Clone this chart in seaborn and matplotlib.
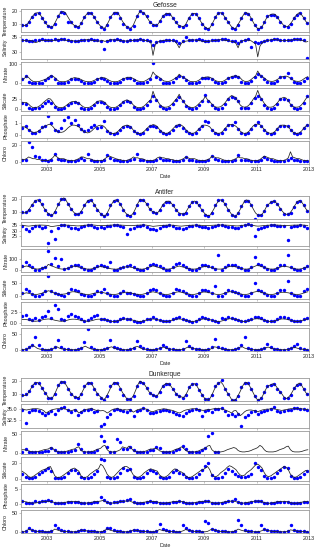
import numpy as np
import pandas as pd
import matplotlib
matplotlib.use("Agg")
import matplotlib.pyplot as plt
import seaborn as sns

sns.set_style("white")
plt.rcParams['font.family'] = ['Liberation Sans', 'DejaVu Sans']

# ---------------- sampling dates (decimal years) ----------------
sample_dates = [
    2002.05, 2002.18, 2002.30, 2002.42, 2002.55, 2002.67, 2002.80, 2002.92,
    2003.04, 2003.16, 2003.29, 2003.41, 2003.54, 2003.66, 2003.79, 2003.91,
    2004.05, 2004.18, 2004.30, 2004.42, 2004.55, 2004.67, 2004.80, 2004.92,
    2005.04, 2005.16, 2005.29, 2005.41, 2005.54, 2005.66, 2005.79, 2005.91,
    2006.05, 2006.18, 2006.30, 2006.42, 2006.55, 2006.67, 2006.80, 2006.92,
    2007.04, 2007.16, 2007.29, 2007.41, 2007.54, 2007.66, 2007.79, 2007.91,
    2008.05, 2008.18, 2008.30, 2008.42, 2008.55, 2008.67, 2008.80, 2008.92,
    2009.04, 2009.16, 2009.29, 2009.41, 2009.54, 2009.66, 2009.79, 2009.91,
    2010.05, 2010.18, 2010.30, 2010.42, 2010.55, 2010.67, 2010.80, 2010.92,
    2011.04, 2011.16, 2011.29, 2011.41, 2011.54, 2011.66, 2011.79, 2011.91,
    2012.05, 2012.18, 2012.30, 2012.42, 2012.55, 2012.67, 2012.80, 2012.92,
]
nan = float('nan')

# ================= GEFOSSE =================
gef_temp_line = [
    9, 8.5, 9, 11, 14, 16.5, 18.5, 19, 18, 15.5, 12.5, 10,
    8, 7, 7.5, 10.5, 14, 17.5, 19.5, 20, 18.5, 15.5, 12.5, 10,
    8.5, 7.5, 7.5, 10, 13.5, 16.5, 18.5, 19, 18, 15.5, 12.5, 10,
    8, 6.5, 6.5, 9.5, 13, 16.5, 18.5, 19.5, 18.5, 15.5, 12, 9.5,
    7.5, 6.5, 6.5, 9, 13, 17, 20, 19.5, 18.5, 16, 13, 10.5,
    9.5, 8.5, 9, 11.5, 14.5, 17, 18, 18.5, 17.5, 15, 12.5, 10,
    8.5, 8, 7.5, 9.5, 13, 16, 18, 18.5, 17.5, 14.5, 11.5, 9,
    7, 6, 6.5, 9.5, 13, 16.5, 18.5, 19, 18, 15, 12.5, 10,
    7.5, 6, 6.5, 9.5, 12.5, 16, 18.5, 19, 17.5, 14.5, 11, 8,
    6, 6, 7.5, 11, 14.5, 16.5, 17.5, 18, 17.5, 15.5, 12.5, 10.5,
    8.5, 7.5, 8, 10, 12.5, 15.5, 17.5, 19, 17.5, 15, 12, 10,
]
gef_temp_dots = [
    9, 9, 11.5, 15.5, 18, 18.5, 15, 11,
    8, 7.5, 10, 16, 19.5, 19, 11, 11,
    8, 7, 10.5, 15.5, 18.5, 18.5, 15.5, 11,
    7.5, 5.5, 9, 15.5, 18.5, 19, 15, 10,
    7, 6, 8.5, 16, 20, 19, 16, 11.5,
    9, 9, 12, 16, 18, 18, 15, 11,
    8, 7.5, 9, 15, 18, 18, 14.5, 10,
    6.5, 6, 9.5, 15.5, 18.5, 18.5, 15, 11,
    6.5, 6, 9, 15, 18.5, 18, 14, 9,
    6, 7, 11.5, 16, 17.5, 17.5, 15.5, 11.5,
    8, 7.5, 9.5, 14.5, 17.5, 18.5, 15, 10.5,
]
gef_sal_line = [
    34.0, 33.9, 33.8, 33.8, 33.9, 33.7, 33.2, 33.4, 33.8, 34.0, 34.0, 33.9,
    33.9, 33.8, 33.9, 34.0, 34.1, 34.2, 34.2, 34.1, 34.0, 33.9, 33.8, 33.9,
    33.7, 33.6, 33.8, 33.9, 34.0, 34.1, 34.2, 34.1, 34.0, 33.9, 33.8, 33.7,
    33.8, 33.9, 33.6, 33.9, 34.0, 34.2, 34.1, 34.1, 34.0, 33.9, 33.8, 33.8,
    33.7, 33.8, 33.9, 34.0, 34.1, 34.1, 34.2, 34.1, 34.0, 33.9, 33.6, 33.5,
    29.0, 32.5, 33.4, 33.6, 33.8, 34.0, 34.0, 34.0, 33.9, 33.8, 33.7, 32.8,
    31.5, 33.0, 33.5, 33.7, 33.8, 34.0, 34.1, 34.1, 34.0, 33.9, 33.8, 33.6,
    33.5, 33.6, 33.7, 33.8, 33.9, 34.0, 34.1, 34.2, 34.1, 34.0, 33.9, 33.8,
    33.6, 33.5, 33.0, 31.5, 33.4, 33.8, 34.0, 34.1, 34.0, 33.8, 33.3, 32.8,
    28.5, 32.0, 33.2, 33.6, 33.8, 34.0, 34.1, 34.2, 34.2, 34.1, 34.0, 33.9,
    33.8, 33.9, 34.0, 34.0, 34.1, 34.2, 34.2, 34.1, 34.0, 33.9, 33.4, 33.6,
]
gef_sal_dots = [
    34.0, 34.1, 33.6, 33.9, 34.2, 34.1, 34.3, 34.0,
    34.1, 34.2, 34.3, 34.2, 34.4, 34.3, 34.2, 33.8,
    33.7, 33.9, 34.0, 34.1, 34.2, 34.3, 34.1, 34.0,
    33.9, 31.0, 33.8, 34.0, 34.2, 34.3, 34.1, 33.9,
    33.8, 34.0, 34.1, 34.2, 34.3, 34.2, 34.1, 33.9,
    32.5, 33.5, 33.7, 33.9, 34.0, 34.1, 34.0, 33.8,
    33.2, 33.9, 35.0, 34.0, 34.1, 34.2, 34.3, 34.0,
    33.7, 33.8, 34.0, 34.1, 34.2, 34.4, 34.3, 34.0,
    33.8, 33.6, 33.2, 33.7, 34.2, 34.4, 31.8, 33.5,
    33.0, 33.5, 33.8, 34.0, 34.2, 34.3, 34.3, 34.1,
    34.0, 34.1, 34.2, 34.3, 34.4, 34.3, 34.0, 28.2,
]
gef_nit_line = [
    20, 25, 38, 30, 18, 10, 8, 8, 10, 14, 18, 22,
    30, 40, 38, 30, 18, 10, 8, 8, 9, 14, 20, 26,
    30, 28, 25, 20, 14, 10, 8, 8, 10, 15, 20, 25,
    28, 30, 28, 22, 15, 10, 8, 8, 10, 16, 22, 26,
    30, 32, 30, 25, 18, 12, 9, 8, 10, 16, 24, 30,
    60, 45, 38, 30, 20, 12, 10, 9, 12, 18, 25, 32,
    48, 38, 30, 24, 16, 10, 8, 8, 10, 16, 24, 30,
    32, 34, 32, 26, 18, 12, 9, 8, 10, 16, 24, 30,
    35, 38, 40, 36, 28, 16, 10, 9, 12, 20, 30, 38,
    65, 45, 35, 28, 18, 12, 10, 10, 14, 20, 28, 34,
    36, 38, 34, 26, 18, 12, 10, 10, 14, 22, 30, 35,
]
gef_nit_dots = [
    20, 40, 5, 2, 1, 1, 3, 15,
    28, 38, 25, 3, 1, 1, 5, 20,
    25, 22, 10, 2, 1, 1, 4, 20,
    28, 25, 12, 2, 1, 1, 6, 22,
    30, 28, 15, 2, 1, 1, 8, 25,
    105, 35, 20, 3, 1, 1, 8, 28,
    40, 32, 18, 3, 1, 1, 6, 26,
    30, 30, 22, 4, 1, 2, 8, 30,
    35, 38, 32, 8, 2, 2, 12, 35,
    50, 40, 25, 4, 1, 2, 10, 32,
    34, 55, 28, 5, 1, 2, 12, 30,
]
gef_sil_line = [
    15, 16, 16, 12, 7, 4, 4, 5, 8, 12, 17, 21,
    25, 24, 18, 10, 6, 4, 4, 5, 8, 12, 16, 18,
    18, 17, 14, 10, 6, 4, 4, 5, 8, 12, 16, 19,
    20, 19, 15, 10, 6, 4, 4, 5, 8, 12, 16, 20,
    22, 20, 16, 10, 6, 4, 4, 5, 8, 13, 18, 22,
    42, 28, 20, 12, 7, 5, 5, 6, 9, 14, 20, 26,
    35, 24, 18, 11, 7, 5, 4, 5, 8, 13, 18, 22,
    30, 22, 18, 12, 7, 5, 5, 6, 10, 15, 22, 28,
    32, 30, 26, 18, 10, 6, 5, 6, 10, 16, 24, 30,
    44, 30, 22, 14, 8, 5, 5, 6, 10, 15, 22, 26,
    28, 26, 20, 12, 7, 5, 5, 6, 10, 16, 24, 30,
]
gef_sil_dots = [
    15, 12, 3, 1, 2, 3, 8, 14,
    20, 15, 5, 1, 1, 2, 10, 15,
    16, 14, 4, 1, 1, 2, 9, 16,
    18, 15, 5, 1, 1, 3, 10, 17,
    20, 16, 6, 1, 1, 3, 10, 20,
    30, 22, 8, 2, 1, 3, 12, 22,
    28, 20, 8, 2, 1, 3, 10, 20,
    33, 20, 10, 2, 1, 3, 12, 25,
    28, 26, 20, 4, 2, 3, 14, 27,
    30, 24, 10, 2, 1, 3, 12, 24,
    25, 22, 10, 2, 1, 3, 15, 32,
]
gef_pho_line = [
    0.7, 0.7, 0.6, 0.45, 0.3, 0.2, 0.2, 0.25, 0.4, 0.55, 0.7, 0.8,
    0.9, 0.9, 0.75, 0.5, 0.3, 0.2, 0.2, 0.25, 0.4, 0.6, 0.75, 0.85,
    0.85, 0.8, 0.7, 0.5, 0.3, 0.2, 0.15, 0.2, 0.35, 0.55, 0.7, 0.8,
    0.85, 0.8, 0.65, 0.4, 0.2, 0.1, 0.1, 0.15, 0.3, 0.5, 0.7, 0.8,
    0.85, 0.8, 0.65, 0.4, 0.2, 0.1, 0.1, 0.15, 0.3, 0.5, 0.7, 0.8,
    0.9, 0.85, 0.7, 0.45, 0.25, 0.15, 0.1, 0.15, 0.3, 0.5, 0.7, 0.85,
    0.9, 0.85, 0.7, 0.45, 0.25, 0.15, 0.1, 0.15, 0.3, 0.5, 0.7, 0.85,
    0.85, 0.8, 0.7, 0.45, 0.25, 0.15, 0.1, 0.15, 0.3, 0.55, 0.75, 0.9,
    0.9, 0.85, 0.75, 0.55, 0.3, 0.15, 0.1, 0.15, 0.3, 0.55, 0.8, 0.9,
    0.95, 0.9, 0.7, 0.45, 0.25, 0.15, 0.1, 0.15, 0.3, 0.55, 0.75, 0.85,
    0.85, 0.8, 0.7, 0.45, 0.25, 0.12, 0.1, 0.15, 0.3, 0.55, 0.75, 0.9,
]
gef_pho_dots = [
    0.6, 0.8, 0.4, 0.1, 0.15, 0.3, 0.7, 0.8,
    1.7, 1.0, 0.4, 0.3, 0.6, 1.3, 1.6, 1.0,
    1.3, 0.9, 0.5, 0.3, 0.4, 0.7, 0.9, 0.6,
    0.7, 1.2, 0.3, 0.1, 0.05, 0.1, 0.4, 0.7,
    0.8, 0.7, 0.3, 0.1, 0.05, 0.1, 0.5, 0.8,
    0.8, 0.7, 0.3, 0.1, 0.05, 0.1, 0.4, 0.75,
    0.85, 0.6, 0.3, 0.1, 0.05, 0.1, 0.5, 0.8,
    1.2, 1.1, 0.4, 0.1, 0.05, 0.1, 0.5, 0.9,
    0.85, 1.1, 0.5, 0.15, 0.05, 0.1, 0.5, 0.85,
    1.1, 0.8, 0.4, 0.1, 0.05, 0.1, 0.5, 0.8,
    0.8, 0.75, 0.4, 0.1, 0.05, 0.1, 0.6, 0.9,
]
gef_chl_line = [
    3, 3, 4, 6, 5, 4, 4, 3, 3, 2, 2, 2,
    2, 3, 5, 8, 6, 4, 4, 4, 3, 2, 2, 2,
    2, 3, 4, 6, 6, 5, 4, 4, 3, 2, 2, 2,
    2, 2, 4, 6, 7, 6, 5, 4, 3, 3, 2, 2,
    2, 3, 4, 6, 5, 5, 4, 4, 3, 2, 2, 2,
    2, 3, 5, 6, 5, 5, 4, 4, 3, 3, 2, 2,
    2, 3, 4, 6, 5, 4, 4, 4, 3, 2, 2, 2,
    2, 3, 4, 7, 6, 5, 5, 4, 3, 2, 2, 2,
    2, 3, 4, 6, 5, 5, 4, 4, 3, 2, 2, 2,
    2, 3, 5, 7, 6, 5, 4, 4, 3, 2, 2, 2,
    2, 3, 5, 12, 6, 5, 4, 4, 3, 2, 2, 2,
]
gef_chl_dots = [
    2, 3, 23, 17, 7, 6, 3, 2,
    1, 2, 10, 4, 3, 2, 1, 1,
    1, 2, 5, 3, 9, 3, 1, 1,
    1, 2, 8, 5, 2, 2, 1, 1,
    1, 2, 4, 10, 3, 2, 1, 1,
    1, 2, 5, 3, 2, 2, 1, 1,
    1, 3, 6, 3, 2, 1, 1, 1,
    1, 2, 7, 4, 2, 1, 1, 1,
    1, 2, 8, 3, 2, 2, 1, 1,
    1, 2, 6, 4, 2, 1, 1, 1,
    1, 2, 5, 3, 2, 1, 1, 1,
]

# ================= ANTIFER =================
ant_temp_line = [
    9.5, 9, 9.5, 11.5, 14, 16.5, 18.5, 19.5, 18.5, 16, 13, 10.5,
    8.5, 7, 7.5, 10, 13.5, 17, 19.5, 21, 19.5, 16.5, 13.5, 11,
    9, 8, 8, 10, 13, 16, 18.5, 19.5, 18.5, 16, 13, 10.5,
    8.5, 7, 6.5, 9, 12.5, 16, 18.5, 19.5, 18.5, 16, 13, 10,
    8, 7, 7, 9, 12.5, 16.5, 19.5, 19.5, 18.5, 16.5, 13.5, 11,
    10, 9, 9, 11, 14, 16.5, 18, 18.5, 17.5, 15.5, 13, 10.5,
    9, 8.5, 8, 9.5, 12.5, 15.5, 17.5, 18.5, 17.5, 15, 12.5, 10,
    8, 7, 7, 9.5, 12.5, 16, 18.5, 19.5, 18.5, 16, 13, 10.5,
    8, 6.5, 6.5, 9, 12, 15.5, 18.5, 19.5, 18, 15.5, 12, 9,
    7.5, 7, 8, 10.5, 14, 16, 17.5, 18.5, 18, 16, 13.5, 11,
    9, 8, 8, 9.5, 12, 15, 17.5, 19, 18, 15.5, 12.5, 10,
]
ant_temp_dots = [
    9.5, 9.5, 11, 15.5, 18.5, 19, 16, 11,
    8, 7.5, 9.5, 16, 20, 20.5, 16, 12,
    8.5, 8, 10, 15, 18.5, 19, 15.5, 11.5,
    8, 6.5, 8.5, 15, 18.5, 19, 16, 11,
    7.5, 7, 9, 15.5, 19.5, 19, 16.5, 12,
    9.5, 9, 11, 15.5, 18, 18, 15.5, 11,
    8.5, 8, 9, 14.5, 17.5, 18, 15, 11,
    7.5, 7, 9, 15, 19, 19, 16, 11.5,
    7.5, 6.5, 9, 14.5, 18.5, 18.5, 15.5, 4.5,
    7.5, 7.5, 10.5, 15.5, 17.5, 18.5, 16, 12,
    8.5, 8, 9, 14, 17.5, 18.5, 15, 10.5,
]
ant_sal_line = [
    34.5, 34.3, 34.0, 33.8, 34.0, 34.3, 34.5, 34.6, 34.7, 34.7, 34.6, 34.5,
    34.3, 33.6, 33.5, 33.8, 34.1, 34.4, 34.6, 34.7, 34.7, 34.6, 34.5, 34.4,
    34.2, 34.0, 34.0, 34.2, 34.4, 34.6, 34.7, 34.8, 34.8, 34.7, 34.5, 34.3,
    34.4, 34.3, 34.4, 34.5, 34.6, 34.7, 34.8, 34.8, 34.8, 34.7, 34.6, 34.5,
    34.4, 34.3, 34.2, 34.3, 34.5, 34.6, 34.7, 34.8, 34.8, 34.6, 34.3, 34.0,
    33.6, 33.8, 34.0, 34.2, 34.4, 34.5, 34.6, 34.7, 34.7, 34.6, 34.4, 34.1,
    33.9, 33.8, 34.0, 34.2, 34.4, 34.5, 34.6, 34.7, 34.7, 34.6, 34.5, 34.4,
    34.3, 34.3, 34.4, 34.5, 34.6, 34.7, 34.8, 34.8, 34.8, 34.7, 34.6, 34.5,
    34.4, 34.2, 34.0, 34.0, 34.2, 34.5, 34.7, 34.8, 34.8, 34.7, 34.4, 34.0,
    33.8, 33.9, 34.1, 34.3, 34.5, 34.6, 34.7, 34.8, 34.8, 34.7, 34.6, 34.5,
    34.4, 34.3, 34.4, 34.5, 34.6, 34.7, 34.7, 34.8, 34.8, 34.7, 34.5, 34.4,
]
ant_sal_dots = [
    33.5, 31.0, 29.5, 32.0, 33.5, 34.0, 32.5, 33.0,
    19.0, 30.0, 23.0, 32.5, 34.5, 34.8, 33.5, 32.0,
    32.0, 31.5, 33.0, 33.8, 34.5, 34.6, 33.0, 32.5,
    33.0, 32.5, 33.5, 34.0, 34.5, 34.5, 33.8, 33.0,
    27.0, 31.0, 32.5, 33.8, 34.3, 34.5, 33.0, 31.5,
    31.0, 30.5, 32.0, 33.5, 34.0, 34.5, 33.5, 32.0,
    32.0, 31.0, 32.5, 33.5, 34.2, 34.5, 33.5, 33.0,
    33.0, 32.5, 33.0, 33.5, 34.5, 35.0, 34.0, 33.0,
    33.0, 32.0, 32.5, 33.5, 34.6, 35.2, 34.5, 25.0,
    31.5, 32.0, 33.0, 34.0, 34.5, 34.8, 34.0, 33.5,
    33.5, 22.0, 33.0, 33.5, 34.0, 34.5, 34.0, 32.5,
]
ant_nit_line = [
    30, 35, 40, 35, 25, 18, 15, 12, 15, 20, 25, 28,
    55, 45, 38, 30, 22, 16, 13, 12, 14, 20, 28, 35,
    40, 35, 30, 25, 20, 15, 12, 12, 14, 20, 26, 32,
    35, 32, 28, 24, 18, 14, 12, 11, 14, 20, 26, 30,
    34, 32, 28, 24, 18, 14, 12, 11, 14, 20, 28, 34,
    42, 36, 30, 25, 18, 14, 12, 12, 15, 22, 28, 34,
    40, 34, 30, 25, 18, 14, 12, 12, 15, 22, 28, 32,
    36, 34, 30, 25, 18, 14, 12, 12, 15, 22, 30, 36,
    38, 36, 32, 28, 20, 15, 12, 12, 15, 22, 32, 40,
    48, 40, 34, 28, 20, 15, 12, 12, 15, 22, 28, 34,
    38, 35, 32, 26, 19, 15, 12, 12, 15, 22, 28, 32,
]
ant_nit_dots = [
    40, 80, 50, 30, 8, 5, 20, 35,
    175, 60, 110, 40, 100, 10, 25, 40,
    50, 45, 35, 15, 5, 5, 20, 40,
    45, 40, 30, 80, 6, 5, 20, 35,
    40, 45, 35, 15, 5, 5, 25, 50,
    55, 50, 40, 20, 6, 5, 30, 60,
    70, 45, 30, 15, 5, 5, 25, 45,
    45, 40, 30, 15, 135, 8, 30, 50,
    50, 45, 35, 20, 8, 6, 30, 120,
    60, 45, 35, 15, 6, 5, 25, 45,
    45, 140, 35, 15, 6, 5, 25, 40,
]
ant_sil_line = [
    10, 12, 14, 12, 10, 8, 8, 8, 10, 12, 16, 18,
    22, 20, 16, 12, 10, 8, 8, 9, 10, 13, 16, 18,
    18, 16, 14, 12, 10, 8, 8, 8, 10, 12, 14, 16,
    16, 15, 13, 11, 9, 8, 8, 8, 10, 12, 14, 16,
    16, 15, 13, 11, 9, 8, 8, 8, 10, 12, 14, 16,
    18, 16, 14, 12, 10, 8, 8, 8, 10, 12, 15, 17,
    18, 16, 14, 12, 10, 8, 8, 8, 10, 12, 15, 17,
    17, 16, 14, 12, 10, 8, 8, 8, 10, 13, 16, 18,
    18, 16, 14, 12, 10, 8, 8, 8, 10, 13, 16, 18,
    20, 18, 15, 12, 10, 8, 8, 8, 10, 12, 14, 16,
    16, 15, 14, 12, 10, 8, 8, 8, 10, 13, 16, 18,
]
ant_sil_dots = [
    12, 28, 20, 8, 3, 3, 10, 20,
    78, 22, 15, 8, 4, 3, 15, 30,
    25, 20, 10, 4, 2, 2, 10, 20,
    18, 30, 12, 5, 2, 2, 15, 20,
    15, 12, 8, 4, 2, 2, 12, 25,
    30, 25, 15, 6, 2, 3, 15, 30,
    25, 20, 12, 5, 2, 2, 15, 25,
    25, 20, 15, 42, 3, 3, 15, 25,
    20, 18, 12, 5, 2, 3, 15, 50,
    25, 22, 12, 5, 2, 2, 12, 25,
    25, 60, 15, 5, 2, 3, 20, 30,
]
ant_pho_line = [
    0.8, 0.8, 0.75, 0.65, 0.5, 0.4, 0.35, 0.4, 0.5, 0.65, 0.8, 0.85,
    0.9, 0.85, 0.75, 0.6, 0.5, 0.4, 0.35, 0.4, 0.5, 0.65, 0.8, 0.85,
    0.85, 0.8, 0.7, 0.6, 0.5, 0.4, 0.35, 0.4, 0.5, 0.65, 0.8, 0.85,
    0.85, 0.8, 0.7, 0.6, 0.45, 0.35, 0.3, 0.35, 0.5, 0.65, 0.8, 0.9,
    0.9, 0.85, 0.7, 0.6, 0.45, 0.35, 0.3, 0.35, 0.5, 0.65, 0.8, 0.85,
    0.9, 0.85, 0.75, 0.6, 0.45, 0.35, 0.3, 0.35, 0.5, 0.65, 0.8, 0.9,
    0.9, 0.85, 0.75, 0.6, 0.45, 0.35, 0.3, 0.35, 0.5, 0.65, 0.8, 0.9,
    0.9, 0.85, 0.75, 0.6, 0.45, 0.35, 0.3, 0.35, 0.5, 0.7, 0.85, 0.95,
    0.95, 0.9, 0.8, 0.65, 0.5, 0.35, 0.3, 0.35, 0.5, 0.7, 0.85, 0.95,
    0.95, 0.9, 0.75, 0.6, 0.45, 0.35, 0.3, 0.35, 0.5, 0.65, 0.8, 0.9,
    0.9, 0.85, 0.75, 0.6, 0.45, 0.35, 0.3, 0.35, 0.5, 0.65, 0.8, 0.9,
]
ant_pho_dots = [
    1.5, 1.8, 1.0, 0.6, 1.2, 0.7, 1.3, 1.5,
    2.8, 1.2, 4.3, 3.2, 0.8, 0.6, 1.5, 2.0,
    1.5, 1.3, 0.8, 0.5, 0.6, 1.2, 1.6, 1.8,
    1.0, 0.9, 0.6, 0.4, 0.4, 0.5, 0.9, 1.1,
    0.9, 0.8, 0.5, 0.3, 0.3, 0.5, 0.8, 1.0,
    1.4, 1.0, 0.6, 0.4, 0.4, 0.5, 0.9, 1.2,
    1.3, 1.0, 0.7, 0.5, 0.3, 0.5, 1.0, 1.4,
    1.2, 1.0, 0.6, 0.4, 0.3, 1.2, 1.0, 1.3,
    1.2, 1.0, 0.6, 0.5, 0.4, 0.6, 1.0, 1.3,
    1.3, 1.1, 0.7, 0.5, 0.4, 0.5, 1.0, 1.4,
    1.3, 1.1, 0.7, 0.5, 0.4, 0.5, 0.9, 1.2,
]
ant_chl_line = [
    1, 1, 2, 6, 12, 14, 10, 5, 3, 2, 1, 1,
    1, 1, 3, 8, 10, 6, 4, 3, 2, 1, 1, 1,
    1, 1, 2, 5, 9, 12, 8, 5, 3, 2, 1, 1,
    1, 1, 2, 5, 8, 10, 7, 4, 3, 2, 1, 1,
    1, 1, 2, 6, 10, 11, 7, 4, 3, 2, 1, 1,
    1, 1, 2, 5, 8, 9, 6, 4, 3, 2, 1, 1,
    1, 1, 2, 6, 9, 8, 6, 4, 3, 2, 1, 1,
    1, 1, 2, 5, 10, 9, 6, 4, 3, 2, 1, 1,
    1, 1, 2, 6, 9, 10, 6, 4, 3, 2, 1, 1,
    1, 1, 2, 5, 8, 9, 6, 4, 3, 2, 1, 1,
    1, 1, 2, 5, 7, 8, 6, 4, 3, 2, 1, 1,
]
ant_chl_dots = [
    1, 2, 10, 15, 42, 15, 3, 1,
    1, 2, 8, 30, 10, 4, 2, 1,
    1, 2, 5, 25, 65, 8, 2, 1,
    1, 2, 6, 30, 10, 5, 2, 1,
    1, 2, 5, 28, 12, 5, 2, 1,
    1, 2, 5, 15, 8, 4, 2, 1,
    1, 3, 28, 12, 6, 4, 2, 1,
    1, 2, 8, 35, 10, 5, 2, 1,
    1, 2, 6, 15, 40, 6, 2, 1,
    1, 2, 5, 20, 8, 4, 2, 1,
    1, 2, 5, 12, 20, 5, 2, 1,
]

# ================= DUNKERQUE =================
dun_temp_line = [
    8.5, 8.5, 9, 11, 14, 17, 18.5, 19, 17.5, 15, 12, 10,
    7, 6, 7, 10, 14, 17.5, 19.5, 19.5, 17.5, 14.5, 11.5, 9,
    7.5, 7, 7, 9.5, 13, 16.5, 18.5, 19, 17.5, 14.5, 11.5, 9,
    7.5, 5.5, 6, 9, 12.5, 16.5, 18.5, 19, 17.5, 14.5, 11, 8.5,
    6, 5.5, 6, 8.5, 12.5, 17, 20, 19, 17.5, 15, 12, 10,
    9, 8, 8.5, 11.5, 14.5, 17, 18, 18, 16.5, 14, 11.5, 9,
    8, 7.5, 7, 9, 12.5, 16, 17.5, 18, 16.5, 13.5, 10.5, 8,
    5.5, 5, 6, 9, 13, 16.5, 18.5, 19.5, 17.5, 14, 11, 8.5,
    5.5, 4.5, 5.5, 8.5, 12, 16, 18.5, 19, 17, 14, 10.5, 7,
    5, 5.5, 7.5, 11, 14.5, 16.5, 17, 18, 17, 14.5, 12, 10,
    7.5, 6, 7, 9, 12, 15, 17, 18.5, 17, 14, 11, 9,
]
dun_temp_dots = [
    9, 9.5, 12, 16.5, 18.5, 18.5, 14.5, 10.5,
    7, 6.5, 10, 17, 19.5, 19, 14, 9.5,
    7.5, 7, 9.5, 16, 18.5, 18.5, 14, 10,
    7, 5, 8.5, 16, 18.5, 18.5, 14, 9,
    6, 5.5, 8, 16.5, 19.5, 18.5, 14.5, 10.5,
    9, 8.5, 11, 16.5, 18, 17.5, 13.5, 10,
    8, 7, 9, 15.5, 17.5, 17.5, 13, 9,
    5.5, 5.5, 9, 16, 18.5, 21, 14, 9.5,
    5, 5, 8.5, 15.5, 18.5, 18.5, 13.5, 8,
    5, 6.5, 11, 16, 17, 17.5, 14, 11,
    7, 6.5, 9, 14.5, 17, 18, 13.5, 10,
]
dun_sal_line = [
    35.0, 34.8, 34.7, 34.8, 34.9, 35.0, 35.0, 35.0, 34.9, 34.8, 34.5, 34.0,
    34.3, 34.6, 34.8, 34.9, 35.0, 35.0, 35.0, 35.0, 34.9, 34.7, 34.5, 34.6,
    34.8, 34.6, 34.0, 34.3, 34.6, 34.8, 34.9, 35.0, 35.0, 34.8, 34.6, 34.7,
    34.5, 34.6, 34.4, 34.0, 34.3, 34.7, 34.9, 35.0, 35.0, 34.8, 34.7, 34.8,
    34.7, 34.8, 34.6, 34.2, 34.5, 34.8, 34.9, 35.0, 35.0, 34.9, 34.6, 34.4,
    34.3, 34.5, 34.7, 34.8, 34.9, 35.0, 34.9, 34.8, 34.7, 34.6, 34.4, 34.2,
    34.0, 34.2, 34.5, 34.7, 34.8, 34.9, 35.0, 35.0, 34.9, 34.8, 34.7, 34.6,
    34.7, 34.8, 34.8, 34.9, 35.0, 35.0, 35.0, 35.0, 34.9, 34.7, 34.5, 34.3,
    34.0, 34.5, 34.6, 33.9, 33.4, 33.8, 34.3, 34.6, 34.7, 34.7, 34.6, 34.5,
    34.3, 34.5, 34.7, 34.8, 34.9, 34.9, 35.0, 35.0, 34.9, 34.8, 34.7, 34.6,
    34.7, 34.8, 34.9, 35.0, 35.0, 35.0, 35.0, 35.0, 35.0, 34.9, 34.8, 34.9,
]
dun_sal_dots = [
    34.8, 31.6, 34.2, 34.6, 34.8, 34.5, 34.0, 33.6,
    34.0, 34.4, 33.8, 34.7, 35.2, 35.5, 34.6, 34.3,
    34.6, 33.5, 34.3, 34.7, 34.8, 34.9, 34.2, 34.4,
    31.0, 31.5, 33.0, 33.8, 34.6, 34.9, 34.6, 34.5,
    34.3, 34.6, 33.4, 34.5, 34.8, 35.2, 34.7, 33.9,
    34.0, 34.3, 34.5, 34.7, 34.7, 34.5, 34.2, 33.8,
    33.6, 33.2, 34.0, 34.4, 34.7, 35.0, 34.6, 33.4,
    34.4, 34.6, 34.3, 34.9, 35.0, 35.2, 34.4, 33.6,
    33.7, 33.4, 33.8, 31.0, 33.0, 33.6, 34.2, 34.4,
    33.8, 34.3, 34.5, 34.8, 34.9, 35.5, 34.4, 34.3,
    34.5, 34.6, 34.8, 35.2, 35.2, 35.0, 34.9, 34.8,
]
dun_nit_line = [
    8, 8, 7, 5, 3, 2, 2, 3, 4, 6, 8, 9,
    10, 14, 12, 6, 3, 2, 2, 2, 3, 5, 7, 9,
    10, 14, 16, 6, 3, 2, 2, 2, 3, 5, 8, 10,
    12, 18, 20, 8, 3, 2, 2, 3, 5, 8, 16, 14,
    12, 18, 12, 6, 3, 2, 2, 2, 3, 5, 8, 10,
    10, 12, 10, 5, 3, 2, 2, 2, 3, 5, 8, 10,
    12, 16, 12, 6, 3, 2, 2, 2, 3, 5, 8, 10,
    12, 18, 20, 8, 3, 2, 2, 2, 3, 5, 8, 10,
    12, 14, 12, 6, 3, 2, 2, 3, 4, 6, 9, 11,
    14, 20, 16, 8, 3, 2, 2, 2, 3, 5, 8, 10,
    12, 16, 18, 8, 3, 2, 2, 2, 3, 5, 7, 8,
]
dun_nit_dots = [
    3, 10, 2, 1, 1, 1, 2, 4,
    5, 12, 6, 1, 1, 1, 2, 5,
    8, 25, 10, 1, 1, 1, 3, 6,
    45, 33, 15, 1, 1, 38, 28, 10,
    10, 15, 8, 1, 1, 1, 3, 7,
    8, 15, 12, 2, 1, 1, 3, 8,
    10, 18, 10, 1, 1, 1, 3, 8,
    12, 45, 55, 2, 1, nan, nan, nan,
    nan, nan, nan, nan, nan, nan, nan, nan,
    nan, nan, nan, nan, nan, nan, nan, nan,
    nan, nan, nan, nan, nan, nan, nan, nan,
]
dun_sil_line = [
    10, 8, 6, 3, 2, 3, 5, 7, 9, 11, 12, 13,
    15, 16, 10, 4, 2, 2, 3, 5, 7, 9, 11, 13,
    14, 12, 10, 4, 2, 2, 3, 6, 8, 10, 12, 13,
    19, 17, 12, 6, 3, 2, 3, 6, 9, 12, 14, 16,
    16, 14, 10, 5, 3, 2, 3, 5, 8, 10, 12, 13,
    12, 11, 10, 5, 3, 2, 3, 5, 8, 11, 13, 12,
    10, 9, 7, 4, 2, 2, 3, 5, 7, 9, 11, 12,
    14, 16, 12, 5, 3, 3, 5, 8, 10, 12, 15, 17,
    16, 14, 12, 8, 5, 4, 5, 8, 10, 12, 15, 18,
    19, 17, 14, 8, 4, 3, 4, 6, 8, 10, 12, 14,
    16, 15, 12, 6, 3, 2, 3, 5, 7, 9, 11, 10,
]
dun_sil_dots = [
    6, 2, 1, 1, 3, 6, 9, 12,
    14, 10, 1, 1, 1, 2, 8, 12,
    12, 8, 3, 1, 1, 3, 6, 10,
    26, 24, 3, 1, 1, 2, 8, 14,
    12, 13, 3, 1, 1, 2, 8, 11,
    10, 8, 3, 1, 1, 2, 9, 12,
    8, 6, 2, 1, 1, 2, 7, 12,
    17, 20, 5, 1, 1, 2, 8, 13,
    10, 6, 4, 2, 3, 4, 7, 20,
    16, 12, 4, 1, 1, 2, 8, 12,
    15, 14, 4, 1, 1, 2, 6, 10,
]
dun_pho_line = [
    0.9, 0.85, 0.7, 0.5, 0.35, 0.3, 0.35, 0.45, 0.6, 0.75, 0.85, 0.9,
    0.95, 0.9, 0.7, 0.45, 0.3, 0.3, 0.35, 0.45, 0.6, 0.75, 0.85, 0.9,
    0.9, 0.85, 0.7, 0.45, 0.3, 0.3, 0.35, 0.45, 0.6, 0.75, 0.85, 0.9,
    1.0, 1.2, 0.9, 0.5, 0.35, 0.3, 0.35, 0.5, 0.65, 0.8, 0.9, 1.0,
    1.0, 1.1, 0.8, 0.5, 0.3, 0.3, 0.35, 0.45, 0.6, 0.75, 0.85, 0.9,
    0.9, 0.85, 0.7, 0.45, 0.3, 0.25, 0.3, 0.45, 0.6, 0.75, 0.85, 0.9,
    0.9, 0.85, 0.7, 0.45, 0.3, 0.25, 0.3, 0.45, 0.6, 0.75, 0.85, 0.9,
    0.95, 0.9, 0.75, 0.5, 0.3, 0.25, 0.3, 0.45, 0.6, 0.75, 0.85, 0.95,
    1.0, 0.95, 0.8, 0.6, 0.4, 0.3, 0.35, 0.5, 0.65, 0.8, 0.9, 1.0,
    1.0, 0.95, 0.75, 0.5, 0.3, 0.25, 0.3, 0.45, 0.6, 0.75, 0.85, 0.9,
    0.9, 0.85, 0.7, 0.45, 0.3, 0.25, 0.3, 0.45, 0.6, 0.75, 0.85, 0.9,
]
dun_pho_dots = [
    0.9, 0.4, 0.3, 0.3, 1.0, 0.8, 0.9, 1.1,
    1.2, 1.0, 0.4, 0.3, 0.3, 0.5, 0.6, 0.7,
    0.8, 0.6, 0.4, 0.3, 0.3, 0.4, 0.6, 0.8,
    2.5, 1.5, 0.6, 0.4, 0.8, 0.7, 0.9, 1.0,
    1.2, 1.8, 0.6, 0.4, 0.3, 0.5, 0.7, 0.9,
    0.8, 0.7, 0.4, 0.3, 0.3, 0.4, 0.6, 0.8,
    0.9, 0.8, 0.5, 0.3, 0.3, 0.4, 0.6, 0.8,
    1.0, 0.9, 0.4, 0.3, 0.3, 0.4, 0.7, 0.9,
    1.1, 1.6, 0.8, 0.5, 0.4, 0.5, 0.7, 1.0,
    1.1, 0.9, 0.5, 0.3, 0.3, 0.4, 0.6, 0.8,
    0.8, 0.7, 0.4, 0.3, 0.3, 0.4, 0.6, 0.8,
]
dun_chl_line = [
    1, 1, 3, 8, 6, 4, 3, 2, 2, 1, 1, 1,
    1, 1, 4, 8, 6, 4, 3, 2, 2, 1, 1, 1,
    1, 1, 3, 6, 5, 4, 3, 2, 2, 1, 1, 1,
    1, 2, 5, 9, 6, 4, 3, 2, 2, 1, 1, 1,
    1, 1, 3, 6, 5, 4, 3, 2, 2, 1, 1, 1,
    1, 1, 4, 7, 5, 4, 3, 2, 2, 1, 1, 1,
    1, 2, 4, 7, 5, 4, 3, 2, 2, 1, 1, 1,
    1, 2, 5, 8, 6, 4, 3, 2, 2, 1, 1, 1,
    1, 2, 4, 8, 6, 4, 3, 2, 2, 1, 1, 1,
    1, 2, 4, 7, 5, 4, 3, 2, 2, 1, 1, 1,
    1, 1, 3, 6, 5, 4, 3, 2, 2, 1, 1, 1,
]
dun_chl_dots = [
    1, 2, 10, 6, 4, 3, 2, 1,
    1, 3, 18, 12, 5, 3, 2, 1,
    1, 2, 6, 5, 4, 3, 2, 1,
    1, 3, 12, 10, 5, 3, 2, 1,
    1, 2, 6, 5, 4, 3, 2, 1,
    1, 4, 22, 8, 5, 3, 2, 1,
    1, 20, 12, 6, 4, 3, 2, 1,
    30, 25, 8, 6, 4, 3, 2, 1,
    1, 4, 32, 18, 5, 3, 2, 1,
    1, 18, 8, 5, 4, 3, 2, 1,
    1, 3, 20, 6, 4, 3, 2, 1,
]

sites = ["Gefosse", "Antifer", "Dunkerque"]
variables = ["Temperature", "Salinity", "Nitrate", "Silicate", "Phosphate", "Chloro"]
x_ticks = [2003, 2005, 2007, 2009, 2011, 2013]

panels = {
    "Gefosse": [(gef_temp_line, gef_temp_dots), (gef_sal_line, gef_sal_dots),
                (gef_nit_line, gef_nit_dots), (gef_sil_line, gef_sil_dots),
                (gef_pho_line, gef_pho_dots), (gef_chl_line, gef_chl_dots)],
    "Antifer": [(ant_temp_line, ant_temp_dots), (ant_sal_line, ant_sal_dots),
                (ant_nit_line, ant_nit_dots), (ant_sil_line, ant_sil_dots),
                (ant_pho_line, ant_pho_dots), (ant_chl_line, ant_chl_dots)],
    "Dunkerque": [(dun_temp_line, dun_temp_dots), (dun_sal_line, dun_sal_dots),
                  (dun_nit_line, dun_nit_dots), (dun_sil_line, dun_sil_dots),
                  (dun_pho_line, dun_pho_dots), (dun_chl_line, dun_chl_dots)],
}
ylims = {
    "Gefosse": [(3, 22), (27.9, 35.6), (-10, 114), (-5, 49), (-0.3, 1.8), (-2.5, 24.5)],
    "Antifer": [(4, 22.5), (17, 37), (-15, 195), (-8, 82), (-0.5, 5.0), (-4, 69)],
    "Dunkerque": [(4, 22.5), (30.6, 36), (-4, 60), (-2, 28), (-1, 7), (-3, 58)],
}
yticks = {
    "Gefosse": [[10, 20], [30, 35], [0, 100], [0, 25], [0, 1], [0, 20]],
    "Antifer": [[10, 20], [25, 30, 35], [0, 100], [0, 50], [0.0, 2.5], [0, 50]],
    "Dunkerque": [[10, 20], [32.5, 35.0], [0, 50], [0, 20], [0, 5], [0, 50]],
}
ytick_fmt = {
    "Gefosse": ["%d"] * 6,
    "Antifer": ["%d", "%d", "%d", "%d", "%.1f", "%d"],
    "Dunkerque": ["%d", "%.1f", "%d", "%d", "%d", "%d"],
}

line_t = 2002 + (np.arange(132) + 0.5) / 12.0

W, H = 318, 550
fig = plt.figure(figsize=(W / 100, H / 100), dpi=100)
site_top = {"Gefosse": 9, "Antifer": 196, "Dunkerque": 378}
pitch, ph = 26.4, 23.3
left_px, right_px = 21, 309
fs = 3.9
frame_col = "#9a9a9a"

for site in sites:
    for i, var in enumerate(variables):
        top = site_top[site] + i * pitch
        ax = fig.add_axes([left_px / W, 1 - (top + ph) / H, (right_px - left_px) / W, ph / H])
        line_vals, dot_vals = panels[site][i]
        df_line = pd.DataFrame({"t": line_t, "v": line_vals})
        df_dot = pd.DataFrame({"t": sample_dates, "v": dot_vals})
        sns.lineplot(data=df_line, x="t", y="v", ax=ax, color="#222222",
                     lw=0.55, estimator=None, zorder=3)
        sns.scatterplot(data=df_dot, x="t", y="v", ax=ax, color="#0000ff",
                        s=6, linewidth=0, zorder=2)
        ax.set_xlim(2002, 2013)
        ax.set_ylim(*ylims[site][i])
        ax.set_yticks(yticks[site][i])
        ax.set_yticklabels([ytick_fmt[site][i] % v for v in yticks[site][i]])
        ax.set_xticks(x_ticks)
        ax.set_ylabel(var, fontsize=fs, labelpad=0)
        ax.yaxis.set_label_coords(-0.045, 0.5)
        ax.tick_params(axis="both", labelsize=fs, length=1.5, width=0.4,
                       color=frame_col, pad=0.8, left=True, bottom=True)
        for sp in ax.spines.values():
            sp.set_color(frame_col)
            sp.set_linewidth(0.6)
        if i == 0:
            ax.set_title(site, fontsize=4.8, pad=1.5)
        if i == len(variables) - 1:
            ax.set_xticklabels([str(v) for v in x_ticks])
            ax.set_xlabel("Date", fontsize=fs, labelpad=0.8)
        else:
            ax.set_xticklabels([])
            ax.set_xlabel("")

fig.savefig("out.png", dpi=100)
